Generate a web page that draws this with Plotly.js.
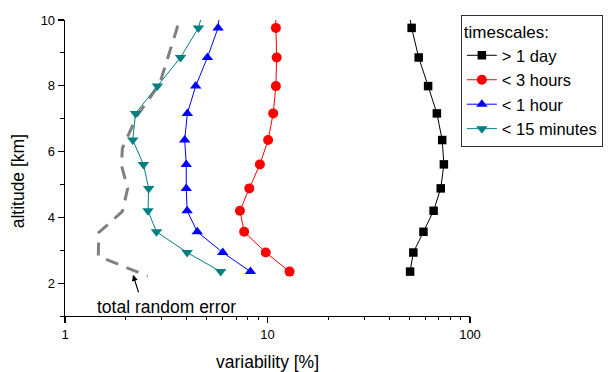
<!DOCTYPE html>
<html>
<head>
<meta charset="utf-8">
<script src="https://cdn.plot.ly/plotly-3.0.1.min.js"></script>
<style>html,body{margin:0;padding:0;background:#fff;}#chart{width:614px;height:372px;}</style>
</head>
<body>
<div id="chart"></div>
<script>
// altitudes [km] of the profile points (last one lies above the visible range)
const altitude = [2.35, 2.93, 3.56, 4.20, 4.88, 5.61, 6.35, 7.16, 7.99, 8.86, 9.76, 10.66];
// variability [%] for each timescale
const dayValues    = [50.6, 52.5, 58.9, 66.1, 71.7, 74.3, 72.9, 68.6, 62.1, 55.8, 51.5, 48.5];
const hours3Values = [12.85, 9.80, 7.67, 7.31, 8.13, 9.17, 10.07, 10.67, 11.0, 11.1, 11.0, 10.95];
const hour1Values  = [8.24, 6.01, 4.50, 4.01, 3.97, 3.97, 3.90, 4.02, 4.42, 5.05, 5.70, 5.9];
const min15Values  = [5.87, 4.01, 2.83, 2.57, 2.59, 2.44, 2.16, 2.23, 2.86, 3.72, 4.56, 5.0];
const seriesNames  = ['> 1 day', '< 3 hours', '< 1 hour', '< 15 minutes'];
// total random error profile
const errAltitude = [10.5, 9.76, 8.05, 7.07, 6.10, 5.58, 4.88, 4.18, 3.54, 2.82, 2.21];
const errValues   = [3.62, 3.58, 2.93, 2.26, 1.92, 1.90, 2.04, 1.92, 1.47, 1.46, 2.56];
const xTickVals = [1, 10, 100];
const xTickText = ['1', '10', '100'];

const FONT = 'Arial, "Liberation Sans", Helvetica, sans-serif';

const traces = [
  {x: errValues, y: errAltitude, mode: 'lines', showlegend: false, hoverinfo: 'skip',
   line: {color: '#808080', width: 3, dash: '13px,9px'}},
  {x: dayValues, y: altitude, name: seriesNames[0], mode: 'lines+markers',
   line: {color: '#000000', width: 1}, marker: {symbol: 'square', size: 8.5, color: '#000000'}},
  {x: hours3Values, y: altitude, name: seriesNames[1], mode: 'lines+markers',
   line: {color: '#ff0000', width: 1}, marker: {symbol: 'circle', size: 10, color: '#ff0000'}},
  {x: hour1Values, y: altitude, name: seriesNames[2], mode: 'lines+markers',
   line: {color: '#0000ff', width: 1}, marker: {symbol: 'triangle-up', size: 10, color: '#0000ff'}},
  {x: min15Values, y: altitude, name: seriesNames[3], mode: 'lines+markers',
   line: {color: '#008080', width: 1}, marker: {symbol: 'triangle-down', size: 10, color: '#008080'}}
];

const layout = {
  width: 614, height: 372,
  margin: {l: 65, r: 143, t: 20, b: 56, pad: 0},
  paper_bgcolor: '#ffffff', plot_bgcolor: '#ffffff',
  font: {family: FONT, size: 13, color: '#000000'},
  showlegend: true,
  hovermode: false,
  xaxis: {
    type: 'log', range: [0, 2],
    tickmode: 'array', tickvals: xTickVals, ticktext: xTickText,
    ticks: 'outside', ticklen: 6, tickwidth: 1.2, tickcolor: '#000',
    minor: {dtick: 'D1', ticks: 'outside', ticklen: 3, tickwidth: 1, tickcolor: '#000', showgrid: false},
    showline: true, linecolor: '#000', linewidth: 1.3, mirror: false,
    showgrid: false, zeroline: false,
    tickfont: {size: 13},
    title: {text: 'variability [%]', font: {size: 17.5}, standoff: 21}
  },
  yaxis: {
    range: [1, 10], tick0: 0, dtick: 2,
    ticks: 'outside', ticklen: 6, tickwidth: 1.2, tickcolor: '#000',
    minor: {dtick: 1, ticks: 'outside', ticklen: 4, tickwidth: 1, tickcolor: '#000', showgrid: false},
    showline: true, linecolor: '#000', linewidth: 1.3, mirror: false,
    showgrid: false, zeroline: false,
    tickfont: {size: 13}
  },
  legend: {
    x: 0.975, y: 1.017, xanchor: 'left', yanchor: 'top',
    bgcolor: '#ffffff', bordercolor: '#333333', borderwidth: 1,
    font: {size: 16.5, family: FONT},
    title: {text: 'timescales:', font: {size: 17, family: FONT}, side: 'top'},
    tracegroupgap: 0
  },
  annotations: [
    {xref: 'paper', yref: 'paper', x: -0.116, y: 0.455, text: 'altitude [km]', textangle: -90,
     showarrow: false, font: {size: 17.5}, xanchor: 'center', yanchor: 'middle'},
    {xref: 'paper', yref: 'paper', x: 0.251, y: 0.029, text: 'total random error',
     showarrow: false, font: {size: 17.5}, xanchor: 'center', yanchor: 'middle'},
    {xref: 'paper', yref: 'paper', x: 0.168, y: 0.139, text: '', showarrow: true,
     ax: 6, ay: 19, arrowhead: 2, arrowsize: 1, arrowwidth: 1.2, arrowcolor: '#000', standoff: 0}
  ]
};

Plotly.newPlot('chart', traces, layout, {displayModeBar: false, staticPlot: true});
</script>
</body>
</html>
